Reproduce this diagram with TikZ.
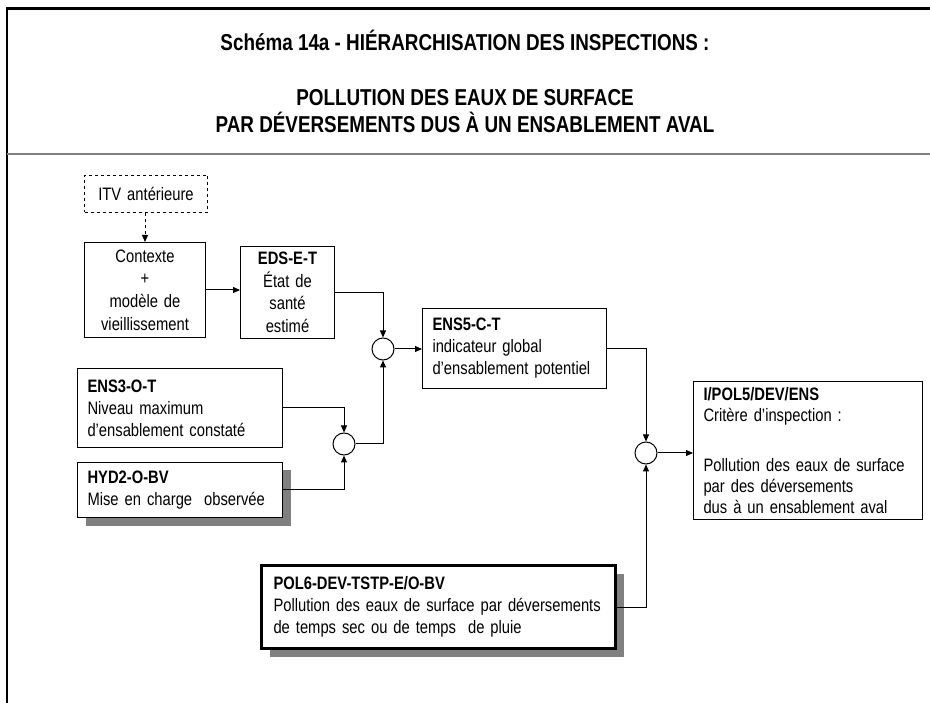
\documentclass[tikz,border=0pt]{standalone}
\usepackage{fontspec}
\setmainfont{Liberation Sans}[FakeStretch=0.82]
\usetikzlibrary{arrows.meta,shadows}
\begin{document}
\begin{tikzpicture}[x=1pt,y=-1pt,
  every node/.style={font=\fontsize{18}{22}\selectfont},
  titletext/.style={font=\fontsize{23}{27}\selectfont\bfseries, align=center},
  boxc/.style={draw, line width=1pt, fill=white, anchor=north west, inner xsep=0pt, inner ysep=0pt, align=center, font=\fontsize{18}{22.6}\selectfont},
  boxl/.style={draw, line width=1pt, fill=white, anchor=north west, inner xsep=10pt, inner ysep=0pt, align=left},
  shadowed/.style={drop shadow={shadow xshift=8pt, shadow yshift=-8pt, fill=black!50, opacity=1}},
  junction/.style={draw, circle, line width=1pt, minimum size=22pt, inner sep=0pt, fill=white},
  arr/.style={line width=1pt, -{Triangle[length=7pt,width=6pt]}}
]
\useasboundingbox (0,0) rectangle (930,703);
% frame
\draw[line width=2.2pt] (7,703) -- (7,8.5) -- (930,8.5);
\draw[line width=2pt, black!50] (7,154) -- (930,154);
% titles
\node[titletext] (t1) at (465,40) {Schéma 14a - HIÉRARCHISATION DES INSPECTIONS :};
\node[titletext] (t2) at (465,111) {POLLUTION DES EAUX DE SURFACE\\PAR DÉVERSEMENTS DUS À UN ENSABLEMENT AVAL};
% boxes
\node[boxc, dashed, minimum width=123pt, minimum height=37pt, text width=123pt] (itv) at (84,175) {ITV antérieure};
\node[boxc, minimum width=121pt, minimum height=95pt, text width=121pt] (ctx) at (84,242) {Contexte\\+\\modèle de\\vieillissement};
\node[boxc, minimum width=94pt, minimum height=92pt, text width=94pt] (eds) at (240,246) {\textbf{EDS-E-T}\\État de\\santé\\estimé};
\node[boxl, minimum width=205pt, minimum height=79pt, text width=185pt] (ens3) at (77,368) {\textbf{ENS3-O-T}\\Niveau maximum\\d’ensablement constaté};
\node[boxl, shadowed, minimum width=205pt, minimum height=55pt, text width=185pt] (hyd2) at (77,462) {\textbf{HYD2-O-BV}\\Mise en charge\ \ observée};
\node[boxl, minimum width=184pt, minimum height=80pt, text width=164pt] (ens5) at (422,308) {\textbf{ENS5-C-T}\\indicateur global\\d’ensablement potentiel};
\node[boxl, minimum width=229pt, minimum height=138pt, text width=209pt, font=\fontsize{18}{21}\selectfont] (ipol) at (693,381) {\textbf{I/POL5/DEV/ENS}\\Critère d’inspection :\\[29pt]Pollution des eaux de surface\\par des déversements\\dus à un ensablement aval};
\node[boxl, shadowed, line width=3pt, inner xsep=12pt, minimum width=354pt, minimum height=83pt, text width=330pt] (pol6) at (260,564) {\textbf{POL6-DEV-TSTP-E/O-BV}\\Pollution des eaux de surface par déversements\\de temps sec ou de temps\ \ de pluie};
% junctions
\node[junction] (c1) at (383,349) {};
\node[junction] (c2) at (344,444) {};
\node[junction] (c3) at (646,453) {};
% connectors
\draw[arr, dashed] (itv.south -| 145,0) -- (ctx.north -| 145,0);
\draw[arr] (ctx.east) -- (ctx.east -| eds.west);
\draw[arr] (eds.east) -| (c1.north);
\draw[arr] (ens3.east) -| (c2.north);
\draw[arr] (hyd2.east) -| (c2.south);
\draw[arr] (c2.east) -| (c1.south);
\draw[arr] (c1.east) -- (c1.east -| ens5.west);
\draw[arr] (ens5.east) -| (c3.north);
\draw[arr] (pol6.east) -| (c3.south);
\draw[arr] (c3.east) -- (c3.east -| ipol.west);
\end{tikzpicture}
\end{document}
